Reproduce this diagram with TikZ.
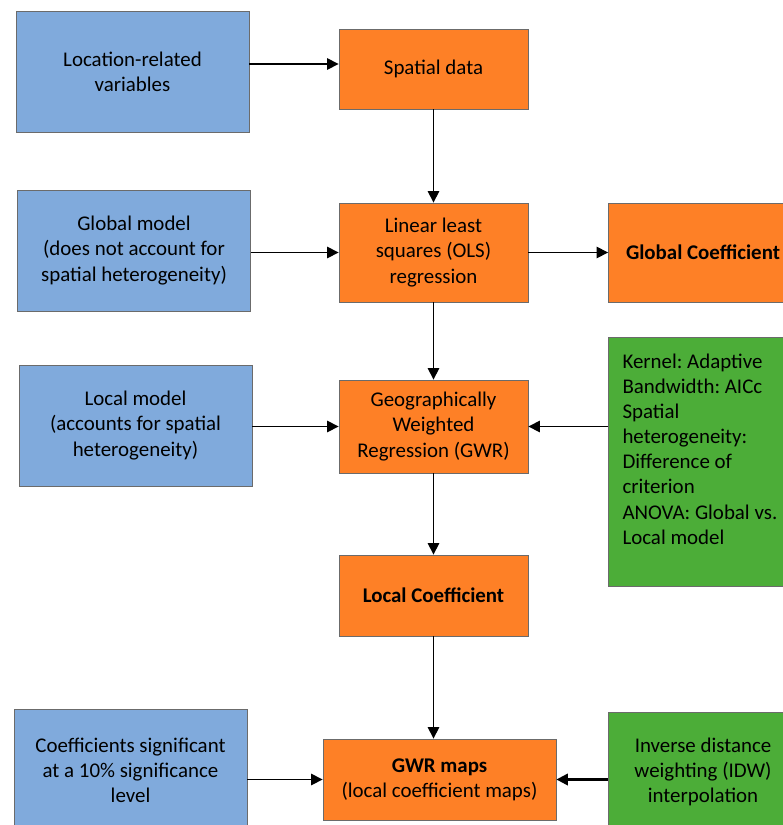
\documentclass[tikz,border=0pt]{standalone}
\usepackage{fontspec}
\setmainfont{Carlito}
\usepackage{tikz}
\usetikzlibrary{arrows.meta}
\definecolor{varblue}{HTML}{80AADC}
\definecolor{procorange}{HTML}{FE8026}
\definecolor{paramgreen}{HTML}{4CAD38}
\definecolor{edgegray}{HTML}{6B6B6B}

\begin{document}
\frenchspacing
\begin{tikzpicture}[x=0.02cm, y=-0.02cm,
    font=\fontsize{11.9}{14.3}\selectfont,
    box/.style={rectangle, draw=edgegray, line width=0.5pt, text centered, align=center, inner sep=2pt},
    inputbox/.style={box, fill=varblue, minimum width=4.66cm, minimum height=2.42cm},
    stepbox/.style={box, fill=procorange, minimum width=3.78cm},
    paramsbox/.style={box, fill=paramgreen, minimum width=3.78cm},
    flow/.style={-{Triangle[length=6.5pt, width=6.5pt]}, line width=0.8pt, black}]

  \useasboundingbox (0,0) rectangle (782,825);

  % inputs on the left
  \node (loc)  [inputbox] at (132.5,72)  {Location-related\\variables};
  \node (glob) [inputbox] at (134,250.5) {Global model\\(does not account for\\spatial heterogeneity)};
  \node (lmod) [inputbox] at (135.5,425.5) {Local model\\(accounts for spatial\\heterogeneity)};
  \node (sig)  [inputbox] at (130.5,770) {Coefficients significant\\at a 10\% significance\\level};

  % main chain
  \node (spatial) [stepbox, minimum height=1.6cm]  at (433.5,69)    {Spatial data};
  \node (ols)     [stepbox, minimum height=1.98cm] at (433.5,252.5) {Linear least\\squares (OLS)\\regression};
  \node (gwr)     [stepbox, minimum height=1.86cm] at (433.5,426.5) {Geographically\\Weighted\\Regression (GWR)};
  \node (lcoef)   [stepbox, minimum height=1.62cm] at (433.5,595.5) {\textbf{Local Coefficient}};
  \node (maps)    [stepbox, minimum width=4.66cm, minimum height=1.62cm] at (439.5,779.5) {\textbf{GWR maps}\\(local coefficient maps)};

  % right column
  \node (gcoef) [stepbox, minimum height=1.98cm] at (703,252.5) {\textbf{Global Coefficient}};
  \node (kern)  [paramsbox, minimum height=4.98cm, align=flush left, text width=3.22cm, inner xsep=0.28cm] at (703,461.5)
    {Kernel: Adaptive\\Bandwidth: AICc\\Spatial\\heterogeneity:\\Difference of\\criterion\\ANOVA: Global vs.\\Local model\\\mbox{}};
  \node (idw)   [paramsbox, minimum height=2.4cm] at (703,772) {Inverse distance\\weighting (IDW)\\interpolation};

  \draw [flow] ([yshift=0.1cm]spatial.west -| loc.east) -- ([yshift=0.1cm]spatial.west);
  \draw [flow] (spatial) -- (ols);
  \draw [flow] (ols.west -| glob.east) -- (ols.west);
  \draw [flow] (ols) -- (gcoef);
  \draw [flow] (ols) -- (gwr);
  \draw [flow] (gwr.west -| lmod.east) -- (gwr.west);
  \draw [flow] (gwr.east -| kern.west) -- (gwr.east);
  \draw [flow] (gwr) -- (lcoef);
  \draw [flow] (lcoef.south) -- (lcoef.south |- maps.north);
  \draw [flow] (maps.west -| sig.east) -- (maps.west);
  \draw [flow, line width=1.3pt] (maps.east -| idw.west) -- (maps.east);
\end{tikzpicture}
\end{document}
